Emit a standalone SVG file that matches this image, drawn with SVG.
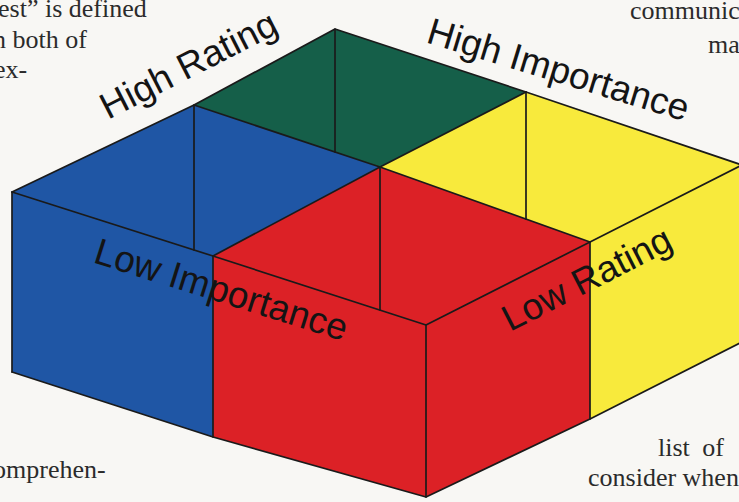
<svg xmlns="http://www.w3.org/2000/svg" width="739" height="502" viewBox="0 0 739 502">
<style>
.face{stroke:none}
.edge{fill:none;stroke:#1a1a1a;stroke-width:1.7;stroke-linejoin:round;stroke-linecap:round}
.lbl{font-family:"Liberation Sans",Arial,sans-serif;font-size:37px;fill:#141414}
.page{font-family:"Liberation Serif","Times New Roman",serif;font-size:26px;fill:#2b2b2b}
</style>
<rect width="739" height="502" fill="#f8f7f4"/>
<g id="page-text">
<text class="page" x="-2" y="17">est” is defined</text>
<text class="page" x="-7" y="48">n both of</text>
<text class="page" x="-6" y="78">ex-</text>
<text class="page" x="630" y="19">communica</text>
<text class="page" x="708" y="53">ma</text>
<text class="page" x="-7" y="478">omprehen-</text>
<text class="page" x="658" y="456" font-size="27" word-spacing="6">list of</text>
<text class="page" x="588" y="486" font-size="27">consider when</text>
</g>
<g id="cell-blue"><polygon class="face" fill="#1f56a5" points="12,192 194,105 380,167 213,256 213,437 12,372"/></g>
<g id="cell-green"><polygon class="face" fill="#155f49" points="194,105 335,29 526,92 380,167"/></g>
<g id="cell-yellow"><polygon class="face" fill="#f8ea3c" points="380,167 526,92 742,165 742,342 590,419 590,242"/></g>
<g id="cell-red"><polygon class="face" fill="#dc2126" points="380,167 590,242 590,419 426,497 213,437 213,256"/></g>
<g id="connectors" class="edge">
<polyline points="12,192 194,105 335,29 526,92 742,165"/>
<polyline points="12,192 213,256 426,325 590,242 742,165"/>
<polyline points="194,105 380,167 590,242"/>
<polyline points="526,92 380,167 213,256"/>
<polyline points="12,372 213,437 426,497 590,419 742,342"/>
<line x1="12" y1="192" x2="12" y2="372"/>
<line x1="213" y1="256" x2="213" y2="437"/>
<line x1="426" y1="325" x2="426" y2="497"/>
<line x1="590" y1="242" x2="590" y2="419"/>
<line x1="194" y1="105" x2="194" y2="250"/>
<line x1="335" y1="29" x2="335" y2="152"/>
<line x1="526" y1="92" x2="526" y2="219"/>
<line x1="380" y1="167" x2="380" y2="310"/>
</g>
<g id="labels">
<text class="lbl" transform="translate(108,120) rotate(-27)">High Rating</text>
<text class="lbl" transform="translate(425,42) rotate(17)">High Importance</text>
<text class="lbl" transform="translate(92,262) rotate(17.5)">Low Importance</text>
<text class="lbl" transform="translate(510,332) rotate(-27)">Low Rating</text>
</g>
</svg>
